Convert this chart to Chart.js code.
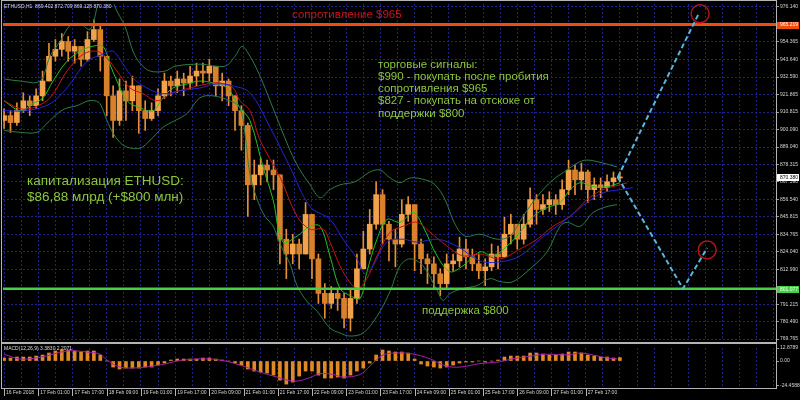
<!DOCTYPE html>
<html>
<head>
<meta charset="utf-8">
<script src="https://cdn.jsdelivr.net/npm/chart.js@4.4.1/dist/chart.umd.min.js"></script>
<style>
  html, body { margin: 0; padding: 0; background: #000; }
  #wrap { position: relative; width: 800px; height: 400px; background: #000; overflow: hidden; }
  canvas { position: absolute; left: 0; }
  #main { top: 0; }
  #macd { top: 344px; }
</style>
</head>
<body>
<div id="wrap">
  <canvas id="main" width="800" height="344"></canvas>
  <canvas id="macd" width="800" height="56"></canvas>
</div>
<script>
// ── Data (H1 chart, sampled every 3 hours, x = hours since 16 Feb 09:00) ─────
const STEP_H = 3
const firstOpen = 905.6
const closes = [
  908.6, 904.3, 911.7, 917.8, 914.8, 920.9, 930.1, 945.5, 949.8, 954.7,
  948.6, 951.6, 943.6, 955.9, 962.1, 945.5, 920.9, 905.6, 924.0, 917.8,
  927.1, 911.7, 906.8, 911.7, 920.9, 930.1, 927.1, 931.4, 928.9, 933.2,
  936.3, 935.0, 939.3, 927.1, 930.1, 920.9, 911.7, 902.5, 865.6, 871.8,
  877.9, 874.8, 871.8, 831.8, 822.6, 828.8, 822.6, 847.2, 819.6, 798.1,
  791.9, 798.1, 795.0, 782.7, 795.0, 813.4, 825.7, 841.1, 859.5, 841.1,
  831.8, 828.8, 847.2, 853.3, 828.8, 819.6, 816.5, 810.3, 804.2, 816.5,
  818.3, 825.7, 820.8, 816.5, 812.2, 814.6, 822.6, 820.8, 834.9, 841.1,
  831.8, 841.1, 856.4, 850.3, 853.3, 856.4, 853.3, 862.6, 874.8, 868.7,
  873.6, 862.6, 865.6, 863.8, 867.5, 869.9, 870.38
]
const highs = [
  912.9, 911.7, 916.6, 922.8, 920.9, 925.2, 936.3, 953.5, 955.9, 959.6,
  957.8, 955.9, 951.6, 960.8, 968.2, 965.8, 945.5, 927.1, 931.4, 930.1,
  933.2, 927.1, 917.8, 916.6, 925.2, 935.0, 933.2, 936.3, 935.0, 939.3,
  941.2, 941.2, 943.6, 939.3, 935.0, 931.4, 920.9, 914.8, 904.0, 881.0,
  882.2, 881.0, 881.0, 868.7, 838.0, 834.9, 831.8, 854.6, 847.2, 822.6,
  804.2, 802.4, 801.1, 798.1, 801.1, 822.6, 836.8, 850.3, 867.5, 862.6,
  842.9, 838.0, 856.4, 858.3, 853.3, 831.8, 822.6, 820.8, 813.4, 822.6,
  822.6, 833.1, 831.8, 825.7, 822.6, 819.6, 828.8, 827.5, 845.4, 847.2,
  841.1, 847.2, 863.8, 859.5, 859.5, 861.3, 859.5, 868.7, 881.0, 877.9,
  879.1, 874.8, 869.9, 869.9, 871.8, 873.6, 873.6
]
const lows = [
  900.6, 898.2, 902.5, 910.5, 908.6, 912.9, 917.8, 933.2, 942.4, 945.5,
  942.4, 941.2, 939.3, 942.4, 954.7, 936.3, 908.6, 895.1, 902.5, 905.6,
  911.7, 897.6, 899.4, 905.6, 908.6, 919.1, 920.9, 922.8, 920.9, 925.2,
  927.1, 928.9, 930.1, 920.9, 917.8, 914.8, 899.4, 887.1, 846.0, 856.4,
  865.6, 867.5, 862.6, 816.5, 807.3, 816.5, 813.4, 831.8, 807.3, 791.9,
  782.7, 788.8, 787.6, 776.6, 774.7, 791.9, 814.6, 822.6, 838.0, 828.8,
  818.3, 814.6, 826.9, 842.9, 812.2, 810.3, 804.2, 801.1, 796.8, 801.1,
  812.2, 814.6, 813.4, 812.2, 807.3, 803.0, 812.2, 813.4, 822.6, 828.8,
  825.7, 828.8, 839.2, 841.1, 847.2, 849.0, 847.2, 850.3, 859.5, 859.5,
  862.6, 854.6, 856.4, 857.6, 861.3, 865.0, 867.5
]

// Bollinger bands and moving averages as [hour, price]
const bbUpper = [
  [0, 931.4], [7.5, 930.1], [16.8, 930.1], [21.5, 945.5], [26.2, 954.7], [30.8, 964.5],
  [35.5, 965.8], [40.2, 962.1], [43.5, 976.2], [47.2, 997.7], [51.9, 976.2], [56.6, 963.9],
  [60.3, 948.6], [63.6, 941.2], [68.3, 936.3], [75.3, 936.3], [80, 939.3], [91.6, 940.6],
  [103.3, 939.3], [108, 945.5], [111.3, 951.6], [115, 945.5], [119.7, 933.2], [124.4, 917.8],
  [129, 902.5], [133.7, 887.1], [138.4, 874.8], [143.1, 865.6], [147.8, 857.6], [152.4, 862.6],
  [157.1, 865.6], [164.1, 867.5], [171.1, 873.6], [175.8, 874.8], [180.5, 869.9], [185.2, 866.9],
  [189.9, 869.9], [196.9, 868.7], [201.6, 865.6], [206.2, 856.4], [210.9, 841.1], [215.6, 833.7],
  [222.6, 834.9], [230.6, 831.8], [236.6, 833.7], [242.7, 846.0], [249.3, 858.3], [256.7, 868.7],
  [263.3, 874.8], [268, 879.1], [272.6, 881.0], [280.1, 879.1], [286.7, 876.7]
]
const bbLower = [
  [0, 899.4], [7.5, 898.2], [15.4, 898.2], [19.1, 902.5], [23.8, 908.6], [28.5, 912.9],
  [34.1, 914.8], [39.3, 917.8], [42.5, 917.8], [44.9, 916.0], [48.1, 905.6], [51, 897.6],
  [54.2, 892.0], [57.5, 889.0], [63.6, 888.4], [68.3, 893.3], [74.3, 901.3], [80, 905.6],
  [85.6, 909.9], [91.6, 919.7], [97.7, 920.9], [105.7, 917.8], [110.3, 913.5], [112.7, 897.0],
  [115, 872.0], [118.8, 855.0], [122, 846.0], [125.8, 840.0], [129, 829.0], [133.7, 816.5],
  [137, 803.0], [141.7, 793.1], [146.4, 787.0], [152.4, 776.6], [157.1, 773.5], [161.8, 771.6],
  [167.9, 773.5], [174.4, 783.9], [180.5, 799.3], [185.2, 815.3], [189.9, 819.6], [195.9, 815.3],
  [202.5, 800.0], [205.3, 793.8], [208.6, 798.1], [214.6, 801.1], [221.2, 803.0], [227.3, 807.3],
  [232, 805.4], [238, 805.4], [246, 813.4], [253.9, 823.9], [260, 839.8], [263.3, 842.3],
  [269.4, 839.8], [275.5, 848.4], [282, 852.1], [286.7, 853.3]
]
const maFast = [
  [0, 917.8], [7.5, 911.7], [13.5, 916.0], [18.2, 919.7], [22.9, 930.1], [29.4, 942.4],
  [35.5, 948.6], [41.1, 951.6], [46.3, 951.6], [49.5, 940.6], [52.8, 930.1], [57.5, 917.8],
  [63.6, 913.5], [69.7, 911.7], [74.3, 919.7], [79, 925.8], [85.6, 928.3], [91.6, 930.1],
  [97.7, 928.9], [104.3, 925.8], [110.3, 913.5], [115, 905.6], [121.1, 876.7], [125.8, 856.4],
  [130.4, 830.0], [137, 833.7], [143.1, 839.8], [147.8, 839.8], [152.4, 821.4], [157.1, 801.1],
  [161.8, 796.8], [166.5, 795.0], [169.7, 811.6], [174.4, 831.8], [179.1, 844.1], [185.2, 842.3],
  [191.3, 848.4], [195.9, 839.8], [202.5, 821.4], [208.6, 811.6], [214.6, 815.3], [222.6, 823.9],
  [228.7, 821.4], [235.2, 827.5], [241.3, 836.1], [246, 844.1], [252.1, 850.3], [260, 854.6],
  [264.7, 862.6], [269.4, 866.9], [275.5, 864.4], [282, 864.4], [288.1, 866.9]
]
const maMid = [
  [0, 917.8], [7.5, 912.9], [13.5, 913.5], [21.5, 919.7], [29.4, 936.3], [36.9, 946.7],
  [43.5, 948.6], [48.1, 944.3], [52.8, 936.3], [58.9, 925.8], [65, 922.2], [71.5, 917.8],
  [79, 922.8], [87, 925.8], [94.9, 928.3], [101, 928.9], [107.1, 925.8], [110.3, 917.8],
  [115, 911.7], [119.7, 893.3], [129, 870.5], [137, 846.0], [143.1, 838.0], [149.2, 838.0],
  [152.4, 830.0], [158.5, 811.6], [165.1, 801.1], [169.7, 807.3], [174.4, 821.4], [180.5, 836.1],
  [186.6, 839.8], [193.1, 842.3], [199.2, 836.1], [207.2, 827.5], [214.6, 821.4], [222.6, 822.6],
  [232, 819.6], [241.3, 825.7], [249.3, 831.8], [256.7, 839.8], [264.7, 846.0], [272.6, 856.4],
  [280.1, 862.6], [288.1, 865.6], [291.4, 866.9]
]
const maSlow = [
  [0, 911.7], [10.7, 911.7], [21.5, 916.0], [29.4, 925.8], [38.8, 942.4], [46.3, 946.7],
  [51, 948.6], [55.6, 940.6], [60.3, 932.0], [66.8, 925.8], [74.3, 922.2], [82.3, 924.0],
  [91.6, 925.8], [99.6, 928.3], [107.1, 927.1], [115, 922.8], [124.4, 901.3], [133.7, 876.7],
  [143.1, 852.1], [152.4, 844.1], [158.5, 831.8], [165.1, 819.6], [168.8, 810.3], [172.5, 815.3],
  [179.1, 830.0], [186.6, 831.8], [193.1, 830.0], [202.5, 831.8], [211.8, 827.5], [222.6, 818.3],
  [232, 817.7], [241.3, 821.4], [250.7, 831.8], [258.6, 839.8], [264.7, 846.0], [272.6, 854.6],
  [280.1, 860.7], [288.1, 862.6], [294.1, 863.8]
]

// MACD(12,26,9)
const macdHist = [
  3, 3, 4, 4, 4, 5, 6, 8, 10, 11,
  11, 10, 9, 10, 10, 6, 0, -6, -8, -7,
  -7, -7, -6, -6, -4, -2, 1, 2, 2, 2,
  2, 3, 3, 2, 1, 0, -2, -4, -8, -10,
  -11, -12, -14, -19, -23, -21, -15, -10, -10, -14,
  -17, -17, -16, -17, -14, -10, -7, -2, 6, 11,
  10, 9, 9, 8, 2, -3, -5, -6, -7, -6,
  -4, -2, -1, -1, 0, -1, 0, 1, 4, 5,
  5, 5, 8, 8, 7, 6, 6, 7, 9, 9,
  8, 6, 5, 4, 4, 3, 3.4
]
const macdSignal = [
  [0, 6.8], [7.5, 2], [16.8, 3.7], [29.4, 10], [38.8, 9], [44.9, 6.8], [48.1, 1], [54.2, -6],
  [63.6, -6.5], [76.2, -2.5], [82.3, 0.6], [94.9, 2.2], [104.3, -0.3], [110.3, -4], [119.7, -11],
  [127.6, -16], [132.3, -19], [137, -20], [143.1, -16.5], [147.8, -12.5], [153.8, -13.4],
  [158.5, -16], [166.5, -13.4], [171.1, -5], [177.2, 6], [183.8, 8], [191.3, 7], [199.2, 2.2],
  [206.7, -5], [213.3, -6], [222.6, -2.5], [231.6, -0.9], [237.6, 2.2], [245.6, 4.7], [253.1, 6.8],
  [263.8, 6.2], [269.4, 8], [275.5, 6], [282, 3], [286.7, 2.2]
]

// levels and forecast
const resistance = 965.219
const support = 801.077
const lastPrice = 870.38
const pathUp = [[287, 870.38], [324.6, 971.3]]
const pathDown = [[287, 870.38], [317.5, 801.077], [328.8, 826.3]]
const targets = [[325.5, 971.9], [328.8, 825.1]]

// axes
const priceTicks = [976.14, 954.365, 943.64, 932.59, 921.865, 910.815, 900.09, 889.04, 878.315,
  867.59, 856.54, 845.815, 834.765, 824.04, 812.99, 791.215, 780.49, 769.765]
const macdTicks = [12.8789, 0, -24.4588]
const macdTickLabels = ['12.8789', '0.00', '-24.4588']
const dateLabels = ['16 Feb 2018', '17 Feb 01:00', '17 Feb 17:00', '18 Feb 09:00', '19 Feb 01:00',
  '19 Feb 17:00', '20 Feb 09:00', '21 Feb 01:00', '21 Feb 17:00', '22 Feb 09:00', '23 Feb 01:00',
  '23 Feb 17:00', '24 Feb 09:00', '25 Feb 01:00', '25 Feb 17:00', '26 Feb 09:00', '27 Feb 01:00',
  '27 Feb 17:00']

// ── Style ─────────────────────────────────────────────────────────────────────
const FONT = '"Liberation Sans", Arial, sans-serif'
const SMALL = 5
const GRID = '#1d2288'
const FRAME = '#b4b4b4'
const AXIS_TEXT = '#d4d4d4'
const BULL = '#f2a24a'
const BEAR = '#d9802a'
const WICK = '#e39038'
const BAND = '#2b7d45'
const FAST = '#1fc41f'
const MID = '#c81414'
const SLOW = '#2525d6'
const RES_LINE = '#ef4c10'
const SUP_LINE = '#45d045'
const CYAN = '#58b6de'
const CIRCLE = '#b3121a'
const NOTE = '#8cc63f'
const X_MIN = -0.5
const X_MAX = 361

Chart.defaults.font.family = FONT
Chart.defaults.animation = false

const pts = arr => arr.map(([x, y]) => ({ x, y }))
const hours = closes.map((_, i) => i * STEP_H)
const opens = closes.map((c, i) => (i === 0 ? firstOpen : closes[i - 1]))
const gridHours = []
for (let h = 0; h <= X_MAX; h += 8) gridHours.push(h)

const lineDs = (data, color, width, order, extra = {}) => ({
  type: 'line', data, borderColor: color, borderWidth: width, pointRadius: 0,
  tension: 0.35, order, ...extra
})

// ── Main chart overlay: frame, price boxes, texts ────────────────────────────
function priceBox(ctx, yPix, text, bg, fg) {
  ctx.fillStyle = bg
  ctx.fillRect(777, Math.round(yPix) - 3, 22, 7)
  ctx.fillStyle = fg
  ctx.font = `${SMALL}px ${FONT}`
  ctx.textAlign = 'left'
  ctx.textBaseline = 'middle'
  ctx.fillText(text, 780, yPix + 0.5)
}

const mainOverlay = {
  id: 'mainOverlay',
  afterDraw(chart) {
    const { ctx, scales: { y } } = chart
    ctx.save()
    ctx.fillStyle = FRAME
    ctx.fillRect(1, 0, 1, 344)
    ctx.fillRect(1, 0, 776, 1)
    ctx.fillRect(776, 0, 1, 344)
    ctx.fillRect(1, 342, 776, 2)

    priceBox(ctx, y.getPixelForValue(resistance), resistance.toFixed(3), RES_LINE, '#ffffff')
    priceBox(ctx, y.getPixelForValue(lastPrice), lastPrice.toFixed(3), '#ffffff', '#000000')
    priceBox(ctx, y.getPixelForValue(support), support.toFixed(3), SUP_LINE, '#ffffff')

    ctx.textAlign = 'left'
    ctx.textBaseline = 'middle'
    ctx.fillStyle = '#dcdcdc'
    ctx.font = `${SMALL}px ${FONT}`
    ctx.fillText('ETHUSD,H1  869.402 872.709 869.128 870.380', 4, 7)

    ctx.fillStyle = '#c8141e'
    ctx.font = `11.5px ${FONT}`
    ctx.fillText('сопротивление $965', 292, 15)

    ctx.fillStyle = NOTE
    const signals = ['торговые сигналы:', '$990 - покупать после пробития', 'сопротивления $965',
      '$827 - покупать на отскоке от', 'поддержки $800']
    signals.forEach((t, i) => ctx.fillText(t, 378, 65 + i * 12.1))
    ctx.fillText('поддержка $800', 422, 311)

    ctx.font = `13.5px ${FONT}`
    ctx.fillText('капитализация ETHUSD:', 27, 181)
    ctx.fillText('$86,88 млрд (+$800 млн)', 27, 197)
    ctx.restore()
  }
}

new Chart(document.getElementById('main'), {
  type: 'bar',
  data: {
    datasets: [
      lineDs(pts(pathUp), CYAN, 2, 0, { tension: 0, borderDash: [5, 3] }),
      lineDs(pts(pathDown), CYAN, 2, 0, { tension: 0, borderDash: [5, 3] }),
      lineDs(pts(targets), CIRCLE, 0, 0, {
        showLine: false, pointRadius: 9, pointBorderWidth: 1.5,
        pointBorderColor: CIRCLE, pointBackgroundColor: 'rgba(0,0,0,0)'
      }),
      lineDs(pts([[X_MIN, resistance], [X_MAX, resistance]]), RES_LINE, 3, 1, { tension: 0 }),
      lineDs(pts([[X_MIN, support], [X_MAX, support]]), SUP_LINE, 2.5, 1, { tension: 0 }),
      lineDs(pts(bbUpper), BAND, 1, 2),
      lineDs(pts(bbLower), BAND, 1, 2),
      lineDs(pts(maSlow), SLOW, 1, 2),
      lineDs(pts(maMid), MID, 1, 2),
      lineDs(pts(maFast), FAST, 1, 2),
      {
        data: hours.map((h, i) => ({ x: h, y: [opens[i], closes[i]] })),
        backgroundColor: closes.map((c, i) => (c >= opens[i] ? BULL : BEAR)),
        barThickness: 5, minBarLength: 1, order: 5
      },
      {
        data: hours.map((h, i) => ({
          x: h,
          y: [Math.min(lows[i], opens[i], closes[i]), Math.max(highs[i], opens[i], closes[i])]
        })),
        backgroundColor: WICK, barThickness: 1, order: 6
      }
    ]
  },
  options: {
    responsive: false,
    devicePixelRatio: 1,
    animation: false,
    layout: { autoPadding: false, padding: { top: 2, left: 3, right: 0, bottom: 2 } },
    plugins: { legend: { display: false }, tooltip: { enabled: false } },
    datasets: { bar: { grouped: false } },
    scales: {
      x: {
        type: 'linear', min: X_MIN, max: X_MAX, offset: false,
        afterBuildTicks: s => { s.ticks = gridHours.map(v => ({ value: v })) },
        afterFit: s => { s.height = 0 },
        ticks: { display: false },
        grid: { color: GRID, drawTicks: false, offset: false },
        border: { display: false, dash: [2, 2] }
      },
      y: {
        position: 'right', min: 769.15, max: 977.98,
        afterBuildTicks: s => { s.ticks = priceTicks.map(v => ({ value: v })) },
        afterFit: s => { s.width = 24 },
        ticks: {
          color: AXIS_TEXT, font: { size: SMALL }, padding: 1, autoSkip: false,
          callback: v => v.toFixed(3)
        },
        grid: { color: GRID, tickLength: 3, tickColor: '#9a9a9a' },
        border: { display: false, dash: [2, 2] }
      }
    }
  },
  plugins: [mainOverlay]
})

// ── MACD panel ────────────────────────────────────────────────────────────────
const macdOverlay = {
  id: 'macdOverlay',
  afterDraw(chart) {
    const { ctx, scales: { x } } = chart
    ctx.save()
    ctx.fillStyle = FRAME
    ctx.fillRect(1, 0, 1, 45)
    ctx.fillRect(776, 0, 1, 45)
    ctx.fillRect(1, 44, 776, 1)
    dateLabels.forEach((_, i) => {
      ctx.fillRect(Math.round(x.getPixelForValue(i * 16)), 45, 1, 7)
    })
    ctx.fillStyle = '#dcdcdc'
    ctx.font = `${SMALL}px ${FONT}`
    ctx.textAlign = 'left'
    ctx.textBaseline = 'middle'
    ctx.fillText('MACD(12,26,9) 3.3830 2.2071', 4, 5)
    ctx.restore()
  }
}

new Chart(document.getElementById('macd'), {
  type: 'bar',
  data: {
    datasets: [
      lineDs(pts(macdSignal), '#a81fa8', 1, 0),
      {
        data: hours.map((h, i) => ({ x: h, y: macdHist[i] })),
        backgroundColor: '#e08a26', barThickness: 3, order: 1
      }
    ]
  },
  options: {
    responsive: false,
    devicePixelRatio: 1,
    animation: false,
    layout: { autoPadding: false, padding: { top: 2, left: 3, right: 0, bottom: 0 } },
    plugins: { legend: { display: false }, tooltip: { enabled: false } },
    scales: {
      x: {
        type: 'linear', min: X_MIN, max: X_MAX, offset: false,
        afterBuildTicks: s => { s.ticks = gridHours.map(v => ({ value: v })) },
        afterFit: s => { s.height = 14; s.paddingLeft = 0; s.paddingRight = 0 },
        ticks: {
          color: AXIS_TEXT, font: { size: SMALL }, align: 'start', padding: 3.5, labelOffset: 2,
          autoSkip: false, maxRotation: 0,
          callback: v => (v % 16 === 0 ? (dateLabels[v / 16] || '') : '')
        },
        grid: { color: GRID, drawTicks: false, offset: false },
        border: { display: false, dash: [2, 2] }
      },
      y: {
        position: 'right', min: -24.9, max: 13.0,
        afterBuildTicks: s => { s.ticks = macdTicks.map(v => ({ value: v })) },
        afterFit: s => { s.width = 24 },
        ticks: {
          color: AXIS_TEXT, font: { size: SMALL }, padding: 1, autoSkip: false,
          callback: v => macdTickLabels[macdTicks.indexOf(v)]
        },
        grid: { drawOnChartArea: false, tickLength: 3, tickColor: '#9a9a9a' },
        border: { display: false }
      }
    }
  },
  plugins: [macdOverlay]
})
</script>
</body>
</html>
